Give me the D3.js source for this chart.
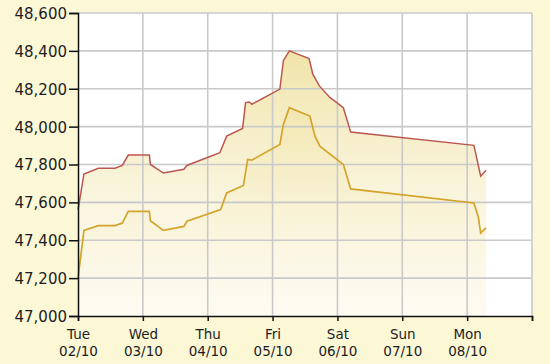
<!DOCTYPE html>
<html>
<head>
<meta charset="utf-8">
<script src="https://cdn.jsdelivr.net/npm/d3@7"></script>
<style>
    body { margin: 0; background: #fcf8d6; }
    svg { display: block; }
    .axis text { font-family: 'DejaVu Sans', Verdana, sans-serif; fill: #1c1c24; }
</style>
</head>
<body>
<div id="chart"></div>
<script>
// hours since Tue 02/10 00:00
const hoursHigh = [0, 2.2, 7.5, 13.7, 16.4, 18.6, 26.4, 26.8, 31.6, 39.2, 40.3, 52.5, 55.0, 60.9, 62.0, 63.4, 64.3,
    74.7, 76.0, 78.2, 85.5, 86.9, 89.3, 93.2, 98.2, 100.9, 146.5, 147.5, 149.0, 151.0];
const valuesHigh = [47560, 47750, 47780, 47780, 47795, 47850, 47850, 47800, 47755, 47775, 47795, 47862, 47950, 47990, 48127, 48130, 48118,
    48198, 48348, 48400, 48360, 48277, 48215, 48154, 48100, 47971, 47901, 47836, 47738, 47770];

const hoursLow = [0, 2.2, 7.5, 13.7, 16.4, 18.6, 26.4, 26.8, 31.6, 39.2, 40.3, 52.8, 55.0, 61.2, 62.8, 64.3,
    74.7, 76.0, 78.2, 85.8, 87.7, 89.5, 98.2, 100.9, 146.5, 148.1, 149.0, 151.0];
const valuesLow = [47200, 47452, 47477, 47477, 47491, 47553, 47553, 47503, 47452, 47473, 47500, 47562, 47650, 47689, 47827, 47823,
    47906, 48012, 48100, 48056, 47950, 47897, 47800, 47671, 47597, 47526, 47438, 47465];

const dayNames = ['Tue', 'Wed', 'Thu', 'Fri', 'Sat', 'Sun', 'Mon'];
const dayDates = ['02/10', '03/10', '04/10', '05/10', '06/10', '07/10', '08/10'];
const yTicks = [47000, 47200, 47400, 47600, 47800, 48000, 48200, 48400, 48600];

let width = 550,
    height = 364,
    margin = {top: 13, right: 18, bottom: 48, left: 78};

let chartWidth = width - margin.left - margin.right,
    chartHeight = height - margin.top - margin.bottom;

let svg = d3.select('#chart').append('svg')
    .attr('width', width)
    .attr('height', height);

let g = svg.append('g')
    .attr('transform', `translate(${margin.left},${margin.top})`);

let scaleX = d3.scaleLinear().domain([0, 168]).range([0, chartWidth]);
let scaleY = d3.scaleLinear().domain([47000, 48600]).range([chartHeight, 0]);

let high = hoursHigh.map((h, i) => ({h, v: valuesHigh[i]}));
let low = hoursLow.map((h, i) => ({h, v: valuesLow[i]}));

// plot background
g.append('rect')
    .attr('width', chartWidth)
    .attr('height', chartHeight)
    .attr('fill', '#ffffff');

// gradient for the areas
let defs = svg.append('defs');
let grad = defs.append('linearGradient')
    .attr('id', 'fillGrad')
    .attr('gradientUnits', 'userSpaceOnUse')
    .attr('x1', 0).attr('x2', 0)
    .attr('y1', scaleY(48400)).attr('y2', chartHeight);
grad.append('stop').attr('offset', '0%').attr('stop-color', '#ead883').attr('stop-opacity', 0.7);
grad.append('stop').attr('offset', '100%').attr('stop-color', '#fbf5dc').attr('stop-opacity', 0.25);

let area = d3.area()
    .x((d) => scaleX(d.h))
    .y0(chartHeight)
    .y1((d) => scaleY(d.v));

g.append('path').datum(high).attr('d', area).attr('fill', 'url(#fillGrad)');
g.append('path').datum(low).attr('d', area).attr('fill', 'url(#fillGrad)').attr('opacity', 0.6);

// grid
let dayTicks = d3.range(0, 8).map((d) => d * 24);
g.append('g')
    .selectAll('line')
    .data(yTicks.slice(1))
    .enter()
    .append('line')
    .attr('x1', 0).attr('x2', chartWidth)
    .attr('y1', (d) => scaleY(d)).attr('y2', (d) => scaleY(d))
    .attr('stroke', '#c9c9c9')
    .attr('stroke-width', 1.6);

g.append('g')
    .selectAll('line')
    .data(dayTicks.slice(1))
    .enter()
    .append('line')
    .attr('x1', (d) => scaleX(d)).attr('x2', (d) => scaleX(d))
    .attr('y1', 0).attr('y2', chartHeight)
    .attr('stroke', '#c9c9c9')
    .attr('stroke-width', 1.6);

// lines
let line = d3.line()
    .x((d) => scaleX(d.h))
    .y((d) => scaleY(d.v));

g.append('path').datum(low).attr('d', line)
    .attr('fill', 'none').attr('stroke', '#d3a42a').attr('stroke-width', 1.7);
g.append('path').datum(high).attr('d', line)
    .attr('fill', 'none').attr('stroke', '#bd5650').attr('stroke-width', 1.5);

// axes
let yAxis = d3.axisLeft(scaleY)
    .tickValues(yTicks)
    .tickSize(9)
    .tickPadding(2)
    .tickFormat(d3.format(','));

let yg = g.append('g').attr('class', 'axis').call(yAxis);
yg.selectAll('text').attr('font-size', 15).attr('dy', '0.36em');

let xAxis = d3.axisBottom(scaleX)
    .tickValues(dayTicks)
    .tickSize(5)
    .tickFormat('');

let xg = g.append('g')
    .attr('class', 'axis')
    .attr('transform', `translate(0,${chartHeight})`)
    .call(xAxis);

xg.selectAll('.tick')
    .filter((d, i) => i < dayNames.length)
    .each(function (d, i) {
        let t = d3.select(this).append('text')
            .attr('text-anchor', 'middle')
            .attr('font-size', 13.5);
        t.append('tspan').attr('x', 0).attr('y', 23).text(dayNames[i]);
        t.append('tspan').attr('x', 0).attr('y', 40).text(dayDates[i]);
    });

svg.selectAll('.axis path, .axis line')
    .attr('stroke', '#111')
    .attr('stroke-width', 1.5);
</script>
</body>
</html>
